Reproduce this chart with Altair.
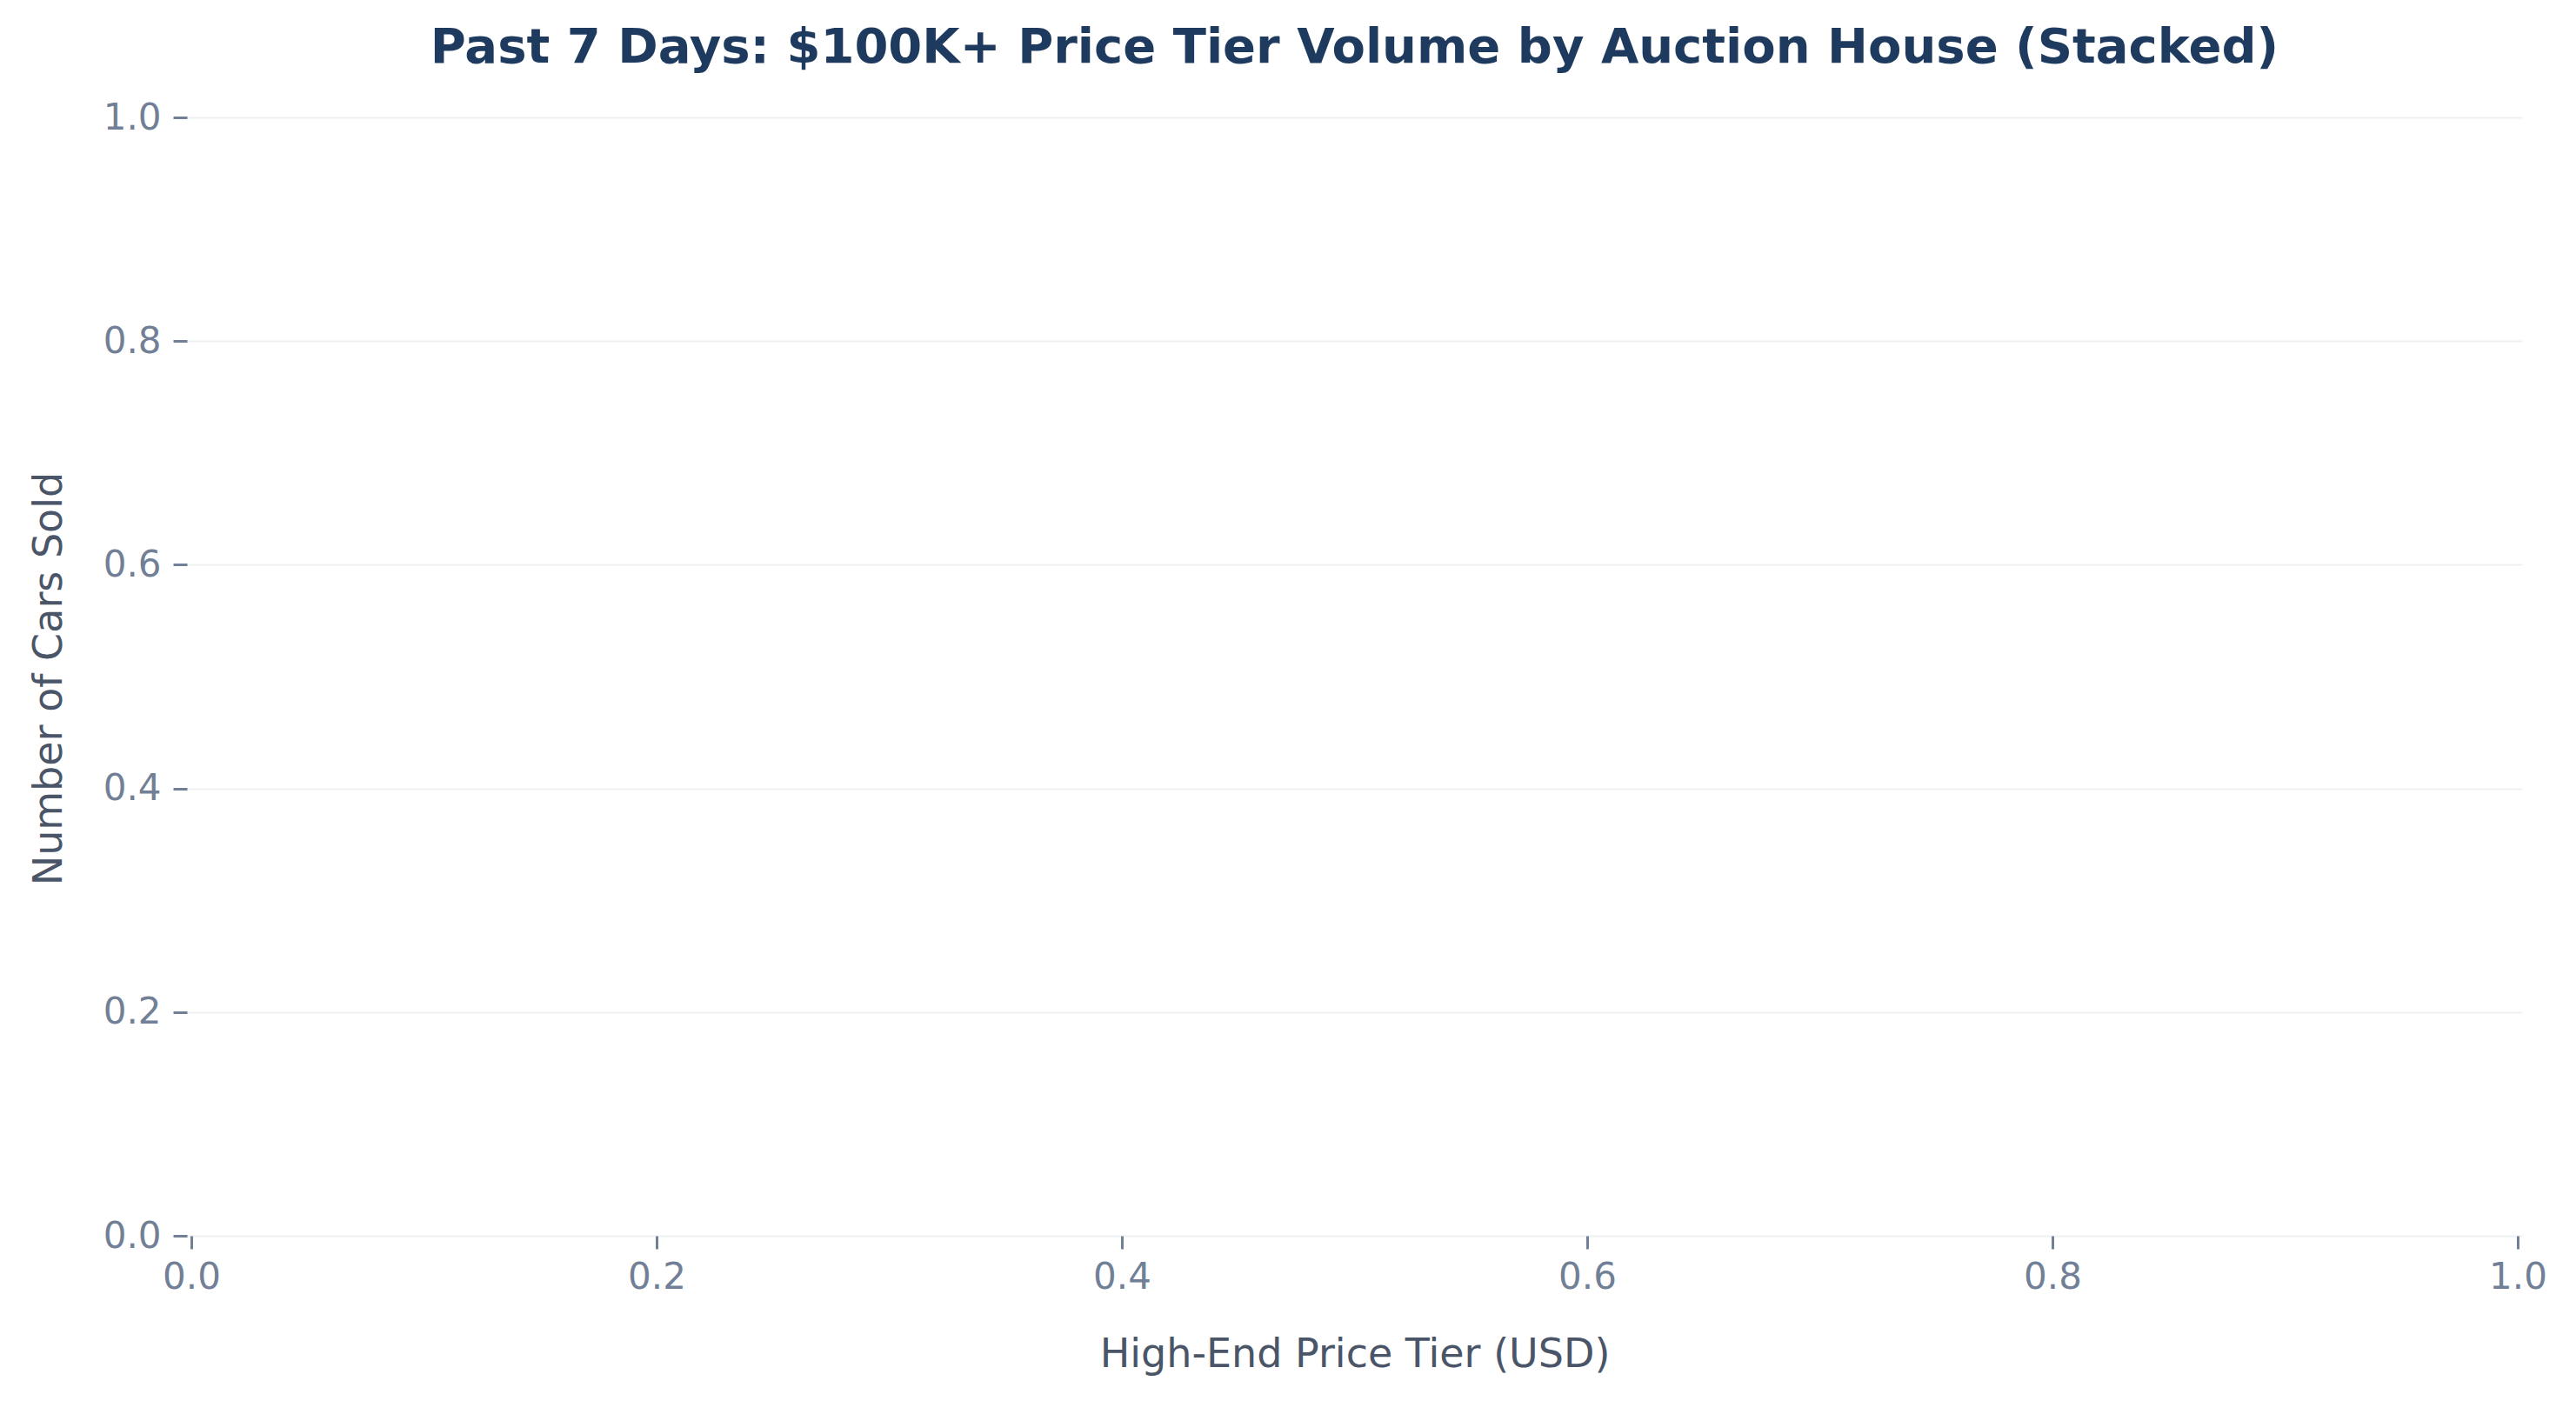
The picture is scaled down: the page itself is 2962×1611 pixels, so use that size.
import altair as alt
import pandas as pd

# Data (the reference chart has no bars drawn: the data series are empty)
price_tier = []
auction_house = []
cars_sold = []

x_ticks = [0.0, 0.2, 0.4, 0.6, 0.8, 1.0]
y_ticks = [0.0, 0.2, 0.4, 0.6, 0.8, 1.0]
x_domain = [0.0, 1.0]
y_domain = [0.0, 1.0]

df = pd.DataFrame({
    "price_tier": pd.Series(price_tier, dtype="float"),
    "auction_house": pd.Series(auction_house, dtype="object"),
    "cars_sold": pd.Series(cars_sold, dtype="float"),
})

FONT = "DejaVu Sans"
TICK_COLOR = "#718096"
AXIS_TITLE_COLOR = "#4a5568"
TITLE_COLOR = "#1e3a5f"
GRID_COLOR = "#eef1f4"

chart = alt.Chart(df).mark_bar().encode(
    x=alt.X(
        "price_tier:Q",
        title="High-End Price Tier (USD)",
        scale=alt.Scale(domain=x_domain, nice=False, zero=False),
        axis=alt.Axis(
            values=x_ticks, format=".1f", grid=False, domain=False,
            tickSize=15, tickWidth=3, tickColor=TICK_COLOR,
            labelFont=FONT, labelFontSize=42, labelColor=TICK_COLOR,
            labelPadding=12, labelFlush=False,
            titleFont=FONT, titleFontSize=46, titleFontWeight="normal",
            titleColor=AXIS_TITLE_COLOR, titleBaseline="alphabetic",
            titleY=150,
        ),
    ),
    y=alt.Y(
        "cars_sold:Q",
        title="Number of Cars Sold",
        stack="zero",
        scale=alt.Scale(domain=y_domain, nice=False, zero=False),
        axis=alt.Axis(
            values=y_ticks, format=".1f", grid=True, gridColor=GRID_COLOR,
            gridWidth=2, domain=False,
            tickSize=16, tickWidth=3, tickColor=TICK_COLOR,
            labelFont=FONT, labelFontSize=42, labelColor=TICK_COLOR,
            labelPadding=14, labelFlush=False,
            titleFont=FONT, titleFontSize=46, titleFontWeight="normal",
            titleColor=AXIS_TITLE_COLOR, titleBaseline="alphabetic",
            titleAngle=270, titleX=-145, titleY=645, titleAlign="center",
        ),
    ),
    color=alt.Color("auction_house:N", legend=None),
).properties(
    width=2685,
    height=1286,
    autosize=alt.AutoSizeParams(type="none"),
    padding={"left": 207, "top": 127, "right": 50, "bottom": 180},
    title=alt.TitleParams(
        text="Past 7 Days: $100K+ Price Tier Volume by Auction House (Stacked)",
        font=FONT, fontSize=56, fontWeight="bold", color=TITLE_COLOR,
        anchor="middle", offset=30,
    ),
).configure(
    background="white",
).configure_view(
    strokeWidth=0, stroke="transparent",
)

chart.save("out.html", embed_options={"renderer": "svg", "actions": False})
